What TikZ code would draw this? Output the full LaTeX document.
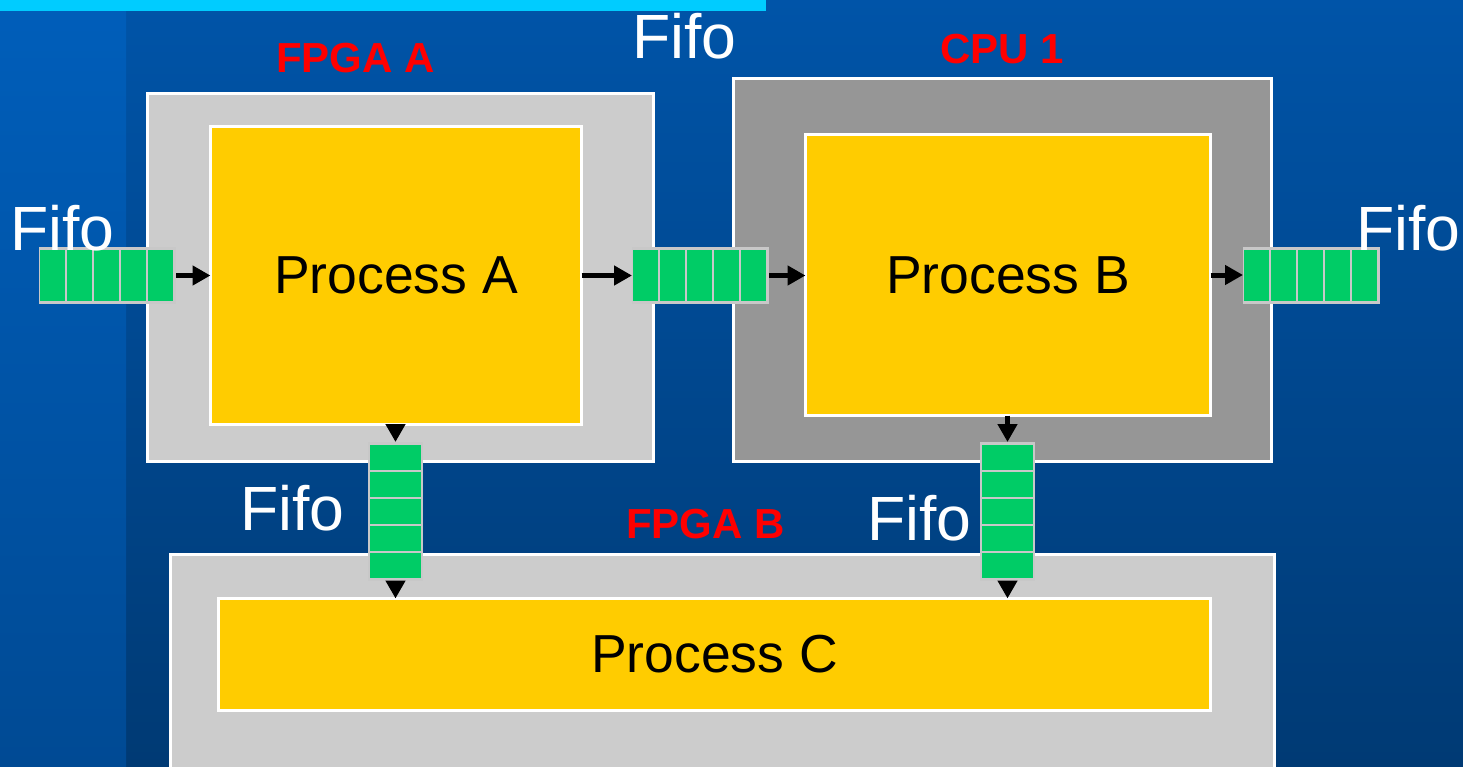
\documentclass[tikz,border=0pt]{standalone}
\usepackage{fontspec}
\setmainfont{Liberation Sans}
\usetikzlibrary{arrows.meta,calc}
\definecolor{bgtop}{HTML}{0054A8}
\definecolor{bgbot}{HTML}{003A74}
\definecolor{striptop}{HTML}{005EBA}
\definecolor{stripbot}{HTML}{004A94}
\definecolor{barcyan}{HTML}{00CCFF}
\definecolor{lgray}{HTML}{CCCCCC}
\definecolor{dgray}{HTML}{969696}
\definecolor{procyellow}{HTML}{FFCC00}
\definecolor{fgreen}{HTML}{00CC66}
\definecolor{fgray}{HTML}{C8C8C8}
\definecolor{lblred}{HTML}{FF0000}
\tikzset{
  box/.style={draw=white, line width=3pt, rectangle, inner sep=0pt, outer sep=0pt},
  procbox/.style={box, fill=procyellow, font=\fontsize{53.5}{53.5}\selectfont, text=black},
  hfifo/.style={rectangle, fill=fgray, inner sep=0pt, outer sep=0pt, minimum width=137pt, minimum height=57pt},
  vfifo/.style={rectangle, fill=fgray, inner sep=0pt, outer sep=0pt, minimum width=55pt, minimum height=139pt},
  fifolbl/.style={text=white, font=\fontsize{62.5}{62.5}\selectfont, inner sep=0pt, anchor=base west},
  redlbl/.style={text=lblred, font=\bfseries\fontsize{42}{42}\selectfont, inner sep=0pt, anchor=base west},
  arr/.style={line width=5pt, -{Triangle[length=18pt,width=19pt]}}
}
\newcommand\hcells[1]{\foreach \i in {0,...,4} \fill[fgreen] ($(#1.north west)+(1+\i*27,3)$) rectangle ++(25,51);}
\newcommand\vcells[1]{\foreach \i in {0,...,4} \fill[fgreen] ($(#1.north west)+(2,3+\i*27)$) rectangle ++(51,25);}
\begin{document}
\begin{tikzpicture}[x=1pt,y=-1pt]
\useasboundingbox (0,0) rectangle (1463,766);
\clip (0,0) rectangle (1463,766);
% background
\shade[top color=bgtop, bottom color=bgbot] (0,0) rectangle (1463,766);
\shade[top color=striptop, bottom color=stripbot] (0,0) rectangle (126,766);
\fill[barcyan] (0,0) rectangle (766,11);
% containers
\node[box, fill=lgray, minimum width=506pt, minimum height=368pt] (fa) at (400.5,277.5) {};
\node[box, fill=dgray, minimum width=538pt, minimum height=383pt] (cpu) at (1002.5,270) {};
\node[box, fill=lgray, minimum width=1104pt, minimum height=300pt] (fb) at (722.5,704.5) {};
% processes
\node[procbox, minimum width=371pt, minimum height=298pt] (pA) at (396,275.5) {Process A};
\node[procbox, minimum width=405pt, minimum height=281pt] (pB) at (1008,275) {Process B};
\node[procbox, minimum width=992pt, minimum height=112pt] (pC) at (714.5,654.5) {Process C};
% fifos
\node[hfifo] (lf) at (107.5,275.5) {}; \hcells{lf}
\node[hfifo] (mf) at (700.5,275.5) {}; \hcells{mf}
\node[hfifo] (rf) at (1311.5,275.5) {}; \hcells{rf}
\node[vfifo] (lvf) at (395.5,511.5) {}; \vcells{lvf}
\node[vfifo] (rvf) at (1007.5,511.5) {}; \vcells{rvf}
% arrows
\draw[arr] (lf.east) -- (pA.west);
\draw[arr] (pA.east) -- (mf.west);
\draw[arr] (mf.east) -- (mf.east -| pB.west);
\draw[arr] (pB.east) -- (pB.east -| rf.west);
\draw[arr] (pA.south -| lvf.north) -- (lvf.north);
\draw[arr] (lvf.south) -- (lvf.south |- pC.north);
\draw[arr] (pB.south -| rvf.north) -- (rvf.north);
\draw[arr] (rvf.south) -- (rvf.south |- pC.north);
% labels
\node[fifolbl] (ltop) at (632,58) {Fifo};
\node[fifolbl] (lleft) at (10,250) {Fifo};
\node[fifolbl] (lright) at (1356,250) {Fifo};
\node[fifolbl] (lvl) at (240,530) {Fifo};
\node[fifolbl] (lvr) at (867,540) {Fifo};
\node[redlbl] (tfa) at (276,72) {FPGA A};
\node[redlbl] (tcpu) at (940,63) {CPU 1};
\node[redlbl] (tfb) at (626,538) {FPGA B};
\end{tikzpicture}
\end{document}
